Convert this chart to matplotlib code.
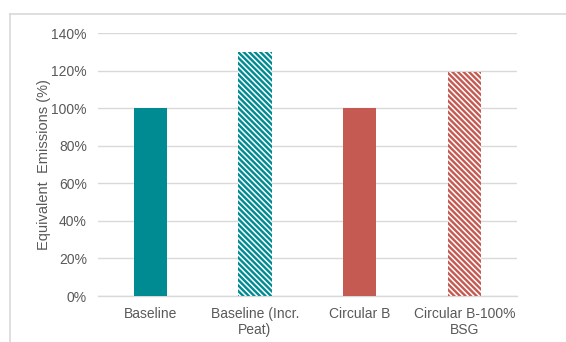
import matplotlib.pyplot as plt
from matplotlib.lines import Line2D
from matplotlib.ticker import PercentFormatter

plt.rcParams['font.family'] = ['Liberation Sans', 'DejaVu Sans']
plt.rcParams['hatch.linewidth'] = 1.1

# Scenario emissions relative to baseline
scenarios = ['Baseline', 'Baseline (Incr.\nPeat)', 'Circular B', 'Circular B-100%\nBSG']
emissions = [100, 130, 100, 119]
colors = ['#008B93', '#008B93', '#C55A52', '#C55A52']
hatches = ['', '\\' * 6, '', '\\' * 6]

grey = '#595959'
grid = '#D9D9D9'

fig = plt.figure(figsize=(5.66, 3.42), dpi=100)
ax = fig.add_axes([0.173, 0.1345, 0.74, 0.769])

for i, (v, c, h) in enumerate(zip(emissions, colors, hatches)):
    # edgecolor drives the hatch colour; the outline itself is hidden
    ax.bar(i, v, width=0.32, color=c, hatch=h, edgecolor='white', linewidth=0, zorder=3)

ax.set_xlim(-0.5, 3.5)
ax.set_ylim(0, 140)
ax.set_yticks(range(0, 141, 20))
ax.yaxis.set_major_formatter(PercentFormatter(decimals=0))
ax.set_xticks(range(len(scenarios)))
ax.set_xticklabels(scenarios, fontsize=10, color=grey)
ax.tick_params(axis='y', labelsize=10, labelcolor=grey, length=0, pad=8)
ax.tick_params(axis='x', length=0, pad=8)
ax.grid(axis='y', color=grid, linewidth=1, zorder=0)
for s in ['top', 'right', 'left']:
    ax.spines[s].set_visible(False)
ax.spines['bottom'].set_color(grid)
ax.spines['bottom'].set_linewidth(1)
ax.set_ylabel('Equivalent  Emissions (%)', fontsize=10.5, color=grey, labelpad=0)

# outer chart frame, cut off at the right and bottom
fig.add_artist(Line2D([10 / 566, 1.0], [1 - 14 / 342] * 2, color=grid, lw=1.2))
fig.add_artist(Line2D([10 / 566] * 2, [0.0, 1 - 14 / 342], color=grid, lw=1.2))

fig.savefig('out.png', dpi=100)
